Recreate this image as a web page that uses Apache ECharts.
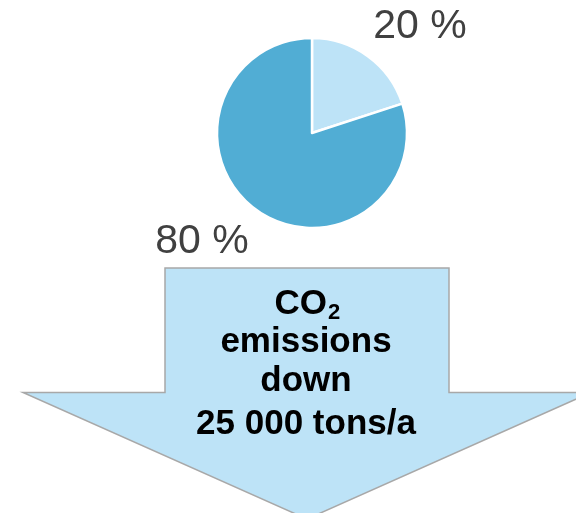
<!DOCTYPE html>
<html lang="en">
<head>
    <meta charset="utf-8">
    <script src="https://cdn.jsdelivr.net/npm/echarts@6/dist/echarts.min.js"></script>
    <style>
        html, body {
            margin: 0px;
            padding: 0px;
            width: 100%;
            height: 100%;
            background-color: #fff;
        }

        #chart {
            width: 576px;
            height: 513px;
        }
    </style>
</head>
<body>
<div id="chart"></div>
<script type="text/javascript">
    // pie shares
    var sliceNames = ['saved', 'remaining'];
    var sliceValues = [20, 80];
    var sliceColors = ['#bde3f7', '#51add4'];

    // arrow caption
    var captionLines = ['emissions', 'down', '25 000 tons/a'];

    var myChart = echarts.init(document.getElementById('chart'));

    var pieData = [];
    for (var i in sliceValues) {
        pieData.push({
            name: sliceNames[i],
            value: sliceValues[i],
            itemStyle: {color: sliceColors[i]}
        });
    }

    //label spots for the two slices
    var labelSpots = [
        {x: 420, y: 27},
        {x: 202, y: 242}
    ];

    var font = 'Arial, "Liberation Sans", Helvetica, sans-serif';

    var captionTexts = [];
    var captionY = [342, 381, 424];
    for (var j in captionLines) {
        captionTexts.push({
            type: 'text',
            x: 306,
            y: captionY[j],
            z: 10,
            style: {
                text: captionLines[j],
                fontFamily: font,
                fontWeight: 'bold',
                fontSize: 35,
                fill: '#000',
                align: 'center',
                verticalAlign: 'middle'
            }
        });
    }

    var option = {
        animation: false,
        backgroundColor: '#fff',
        graphic: [
            {
                type: 'polygon',
                z: 1,
                shape: {
                    points: [
                        [165, 268], [449, 268], [449, 392.5], [591, 392.5],
                        [307, 519], [23, 392.5], [165, 392.5]
                    ]
                },
                style: {
                    fill: '#bde3f7',
                    stroke: '#a8a8a8',
                    lineWidth: 1.5
                }
            },
            {
                type: 'text',
                x: 327,
                y: 304,
                z: 10,
                style: {
                    text: 'CO',
                    fontFamily: font,
                    fontWeight: 'bold',
                    fontSize: 35,
                    fill: '#000',
                    align: 'right',
                    verticalAlign: 'middle'
                }
            },
            {
                type: 'text',
                x: 328,
                y: 313,
                z: 10,
                style: {
                    text: '2',
                    fontFamily: font,
                    fontWeight: 'bold',
                    fontSize: 22,
                    fill: '#000',
                    align: 'left',
                    verticalAlign: 'middle'
                }
            }
        ].concat(captionTexts),
        series: [{
            type: 'pie',
            center: [312, 133],
            radius: 95,
            startAngle: 90,
            clockwise: true,
            silent: true,
            itemStyle: {
                borderColor: '#fff',
                borderWidth: 2.5
            },
            label: {
                show: true,
                formatter: '{c} %',
                fontFamily: font,
                fontSize: 41,
                color: '#404040'
            },
            labelLine: {show: false},
            labelLayout: function (params) {
                var spot = labelSpots[params.dataIndex];
                return {
                    x: spot.x,
                    y: spot.y,
                    align: 'center',
                    verticalAlign: 'middle'
                };
            },
            data: pieData
        }]
    };

    myChart.setOption(option);
</script>
</body>
</html>
